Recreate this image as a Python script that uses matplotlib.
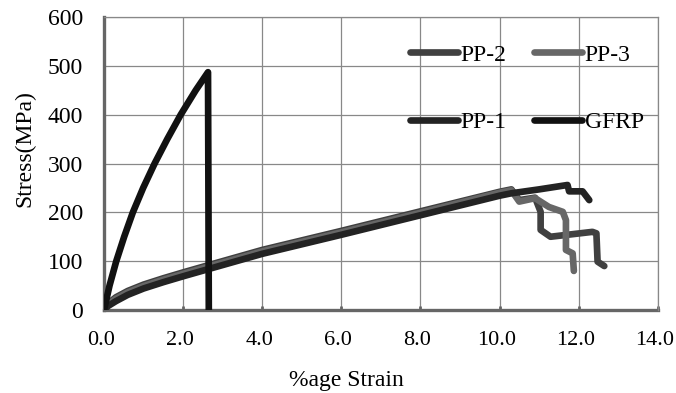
import matplotlib
matplotlib.use("Agg")
import matplotlib.pyplot as plt
from matplotlib.transforms import ScaledTranslation

# ---- data ----
strain_pp2 = [0, 0.1, 0.3, 0.6, 1.0, 1.5, 2.0, 2.65, 4.0, 6.0, 8.0, 10.0, 10.3, 10.5, 10.9, 11.04, 11.04, 11.29, 12.35, 12.45, 12.48, 12.65]
stress_pp2 = [0, 13, 26, 39, 52, 65, 77, 92, 123, 162, 202, 242, 247, 225, 230, 201, 164, 150, 160, 157, 99, 90]

strain_pp3 = [0, 0.1, 0.3, 0.6, 1.0, 1.5, 2.0, 2.65, 4.0, 6.0, 8.0, 10.0, 10.3, 10.5, 10.9, 11.25, 11.6, 11.68, 11.68, 11.85, 11.88]
stress_pp3 = [0, 11, 23, 36, 49, 62, 74, 89, 120, 159, 199, 240, 245, 222, 229, 211, 201, 184, 123, 116, 80]

strain_pp1 = [0, 0.1, 0.3, 0.6, 1.0, 1.5, 2.0, 2.65, 4.0, 6.0, 8.0, 10.0, 10.3, 11.0, 11.72, 11.76, 12.1, 12.27]
stress_pp1 = [0, 8, 18, 31, 44, 57, 69, 84, 115, 154, 194, 234, 239, 247, 256, 243, 243, 225]

strain_gfrp = [0, 0.14, 0.31, 0.51, 0.73, 0.99, 1.28, 1.60, 1.94, 2.32, 2.63, 2.65]
stress_gfrp = [0, 50, 100, 150, 200, 250, 300, 350, 400, 450, 487, 0]

series = [
    ("PP-2", strain_pp2, stress_pp2, "#404040"),
    ("PP-3", strain_pp3, stress_pp3, "#676767"),
    ("PP-1", strain_pp1, stress_pp1, "#232323"),
    ("GFRP", strain_gfrp, stress_gfrp, "#111111"),
]

x_ticks = [0, 2, 4, 6, 8, 10, 12, 14]
x_ticklabels = ["0.0", "2.0", "4.0", "6.0", "8.0", "10.0", "12.0", "14.0"]
y_ticks = [0, 100, 200, 300, 400, 500, 600]

plt.rcParams['font.family'] = ['Liberation Serif', 'DejaVu Serif']

fig = plt.figure(figsize=(6.76, 3.93), dpi=100)
ax = fig.add_axes([104/676, 1-310/393, (657.7-104)/676, (310-17)/393])

handles = {}
for name, xs, ys, c in series:
    ln, = ax.plot(xs, ys, color=c, lw=4.8, solid_capstyle='round',
                  solid_joinstyle='round', label=name, zorder=3)
    handles[name] = ln

ax.set_xlim(0, 14)
ax.set_ylim(0, 600)
ax.set_xticks(x_ticks)
ax.set_xticklabels(x_ticklabels)
ax.set_yticks(y_ticks)
ax.grid(True, color="#888888", lw=0.9, zorder=0)
ax.set_axisbelow(True)

for s in ["top", "right"]:
    ax.spines[s].set_color("#888888")
    ax.spines[s].set_linewidth(0.9)
for s in ["left", "bottom"]:
    ax.spines[s].set_color("#666666")
    ax.spines[s].set_linewidth(2.4)
    ax.spines[s].set_zorder(2)

FS = 17
ax.tick_params(axis='x', direction='in', length=3, width=2, color="#666666",
               labelsize=16, pad=15)
ax.tick_params(axis='y', length=0, labelsize=FS, pad=15)
shift = ScaledTranslation(-3/100, 0, fig.dpi_scale_trans)
for lab in ax.get_xticklabels():
    lab.set_transform(lab.get_transform() + shift)

fig.text(346.7/676, (393-386)/393, "%age Strain", fontsize=FS,
         ha='center', va='baseline')
fig.text(25/676, 1-148.5/393, "Stress(MPa)", fontsize=FS, rotation=90,
         ha='center', va='center')

order = ["PP-2", "PP-1", "PP-3", "GFRP"]
ax.legend([handles[n] for n in order], order, ncol=2, frameon=False,
          fontsize=FS, loc='upper left',
          bbox_to_anchor=(410/676, 1-44/393), bbox_transform=fig.transFigure,
          handlelength=2.05, handletextpad=0.1, columnspacing=1.15,
          labelspacing=1.95, borderpad=0, borderaxespad=0)

fig.savefig("out.png", dpi=100)
